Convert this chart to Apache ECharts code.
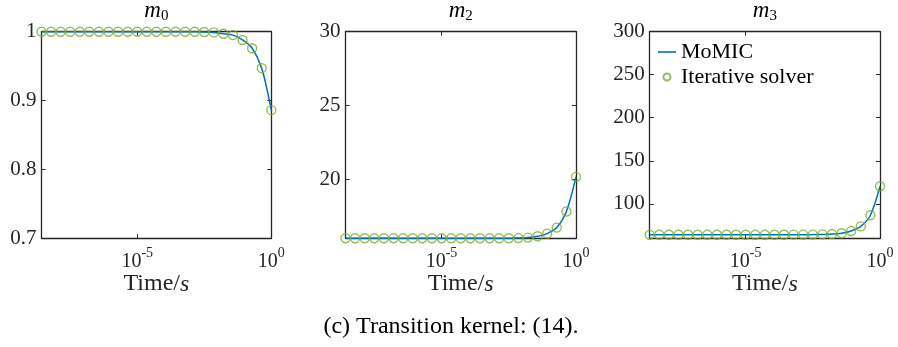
<!DOCTYPE html>
<html><head><meta charset="utf-8">
<script src="https://cdn.jsdelivr.net/npm/echarts@6/dist/echarts.min.js"></script>
<style>html,body{margin:0;padding:0;background:#fff}#c{width:898px;height:347px}</style>
</head><body><div id="c"></div>
<script>
// Time points (s), log-spaced
const times = [2.685e-9, 6.11e-9, 1.39e-8, 3.16e-8, 7.20e-8, 1.637e-7, 3.73e-7, 8.49e-7,
  1.93e-6, 4.39e-6, 1.0e-5, 2.28e-5, 5.18e-5, 1.18e-4, 2.68e-4, 6.11e-4, 1.39e-3,
  3.16e-3, 7.20e-3, 1.637e-2, 3.73e-2, 8.49e-2, 0.193, 0.439, 1.0];
// Moments
const m0 = [1, 1, 1, 1, 1, 1, 1, 1, 1, 1, 1, 1, 1, 1, 1, 1, 1, 0.9995, 0.999,
  0.997, 0.995, 0.988, 0.976, 0.947, 0.886];
const m2 = [16.0, 16.0, 16.0, 16.0, 16.0, 16.0, 16.0, 16.0, 16.0, 16.0, 16.0, 16.0, 16.0,
  16.0, 16.0, 16.0, 16.0, 16.0, 16.01, 16.04, 16.13, 16.31, 16.72, 17.81, 20.16];
const m3 = [64.0, 64.0, 64.0, 64.0, 64.0, 64.0, 64.0, 64.0, 64.0, 64.0, 64.0, 64.0, 64.0,
  64.0, 64.0, 64.1, 64.1, 64.2, 64.4, 64.8, 65.8, 68.3, 73.7, 86.7, 120.4];
// Ticks
const xTicks = [1e-5, 1];
const m0Ticks = [0.7, 0.8, 0.9, 1];
const m2Ticks = [20, 25, 30];
const m3Ticks = [100, 150, 200, 250, 300];
const yRanges = [[0.7, 1], [16, 30], [60, 300]];
const titleSubs = ['0', '2', '3'];
const seriesNames = ['MoMIC', 'Iterative solver'];
const xAxisName = 'Time/';
const caption = '(c) Transition kernel: (14).';

const FONT = 'Liberation Serif';
const AX = '#262626';
const BLUE = '#0072BD';
const GREEN = '#77AC30';

const grids = [
  {left: 41.5, top: 31.7, width: 229.8, height: 206.5},
  {left: 345.5, top: 31.7, width: 230.5, height: 206.5},
  {left: 649.7, top: 31.7, width: 230.3, height: 206.5}
];
const yTicksAll = [m0Ticks, m2Ticks, m3Ticks];
const dataAll = [m0, m2, m3];

const xAxes = [], yAxes = [], series = [], graphics = [];
grids.forEach((g, i) => {
  xAxes.push({
    type: 'log', logBase: 10, gridIndex: i, min: times[0], max: times[times.length - 1],
    position: 'bottom',
    axisLine: {show: true, lineStyle: {color: AX, width: 1.3}},
    axisTick: {show: true, inside: true, length: 4, customValues: xTicks, lineStyle: {color: AX, width: 1}},
    splitLine: {show: false}, minorTick: {show: false},
    axisLabel: {
      show: true, customValues: xTicks, margin: 14,
      formatter: v => '{b|10}{s|' + Math.round(Math.log10(v)) + '}',
      rich: {
        b: {fontFamily: FONT, fontSize: 20, color: AX, lineHeight: 20},
        s: {fontFamily: FONT, fontSize: 14, color: AX, lineHeight: 14, padding: [0, 0, 18, 0]}
      }
    },
    name: '{n|' + xAxisName + '}{i|s}', nameLocation: 'middle', nameGap: 34, nameMoveOverlap: false,
    nameTextStyle: {
      rich: {
        n: {fontFamily: FONT, fontSize: 24, color: AX},
        i: {fontFamily: FONT, fontSize: 24, color: AX, fontStyle: 'italic'}
      }
    }
  });
  yAxes.push({
    type: 'value', gridIndex: i, min: yRanges[i][0], max: yRanges[i][1], position: 'left',
    axisLine: {show: true, lineStyle: {color: AX, width: 1.3}},
    axisTick: {show: true, inside: true, length: 4, customValues: yTicksAll[i], lineStyle: {color: AX, width: 1}},
    splitLine: {show: false},
    axisLabel: {show: true, customValues: yTicksAll[i], margin: 5, fontFamily: FONT, fontSize: 21, color: AX}
  });
});
grids.forEach((g, i) => {
  xAxes.push({
    type: 'log', logBase: 10, gridIndex: i, min: times[0], max: times[times.length - 1], position: 'top',
    axisLine: {show: true, lineStyle: {color: AX, width: 1.3}},
    axisTick: {show: true, inside: true, length: 4, customValues: xTicks, lineStyle: {color: AX, width: 1}},
    axisLabel: {show: false}, splitLine: {show: false}
  });
  yAxes.push({
    type: 'value', gridIndex: i, min: yRanges[i][0], max: yRanges[i][1], position: 'right',
    axisLine: {show: true, lineStyle: {color: AX, width: 1.3}},
    axisTick: {show: true, inside: true, length: 4, customValues: yTicksAll[i], lineStyle: {color: AX, width: 1}},
    axisLabel: {show: false}, splitLine: {show: false}
  });
});
grids.forEach((g, i) => {
  const pts = times.map((t, k) => [t, dataAll[i][k]]);
  series.push({
    name: seriesNames[0], type: 'line', xAxisIndex: i, yAxisIndex: i, data: pts,
    symbol: 'none', smooth: 0.3, lineStyle: {color: BLUE, width: 1.5}, itemStyle: {color: BLUE},
    clip: false, animation: false, z: 2
  });
  series.push({
    name: seriesNames[1], type: 'scatter', xAxisIndex: i, yAxisIndex: i, data: pts,
    symbol: 'circle', symbolSize: 9,
    itemStyle: {color: 'rgba(0,0,0,0)', borderColor: GREEN, borderWidth: 1.4},
    clip: false, animation: false, z: 3
  });
  graphics.push({
    type: 'text', x: g.left + g.width / 2, y: 11,
    style: {
      text: '{m|m}{s|' + titleSubs[i] + '}', align: 'center', verticalAlign: 'middle',
      rich: {
        m: {fontFamily: FONT, fontSize: 23, fontStyle: 'italic', color: '#000', lineHeight: 23},
        s: {fontFamily: FONT, fontSize: 15, color: '#000', lineHeight: 15, padding: [10, 0, 0, 0]}
      }
    }
  });
});
graphics.push({
  type: 'text', x: 451, y: 327,
  style: {text: caption, align: 'center', verticalAlign: 'middle', fontFamily: FONT, fontSize: 24, fill: '#000'}
});

const chart = echarts.init(document.getElementById('c'), null, {renderer: 'canvas'});
chart.setOption({
  animation: false,
  backgroundColor: '#fff',
  grid: grids.map(g => Object.assign({containLabel: false}, g)),
  xAxis: xAxes,
  yAxis: yAxes,
  legend: {
    data: [
      {name: seriesNames[0], icon: 'path://M0,0L18,0L18,1.6L0,1.6Z'},
      {name: seriesNames[1]}
    ],
    orient: 'vertical', left: 658, top: 41, itemWidth: 18, itemHeight: 7, itemGap: 3,
    padding: 0, textStyle: {fontFamily: FONT, fontSize: 22, color: '#000'}
  },
  series: series,
  graphic: graphics
});
</script></body></html>
